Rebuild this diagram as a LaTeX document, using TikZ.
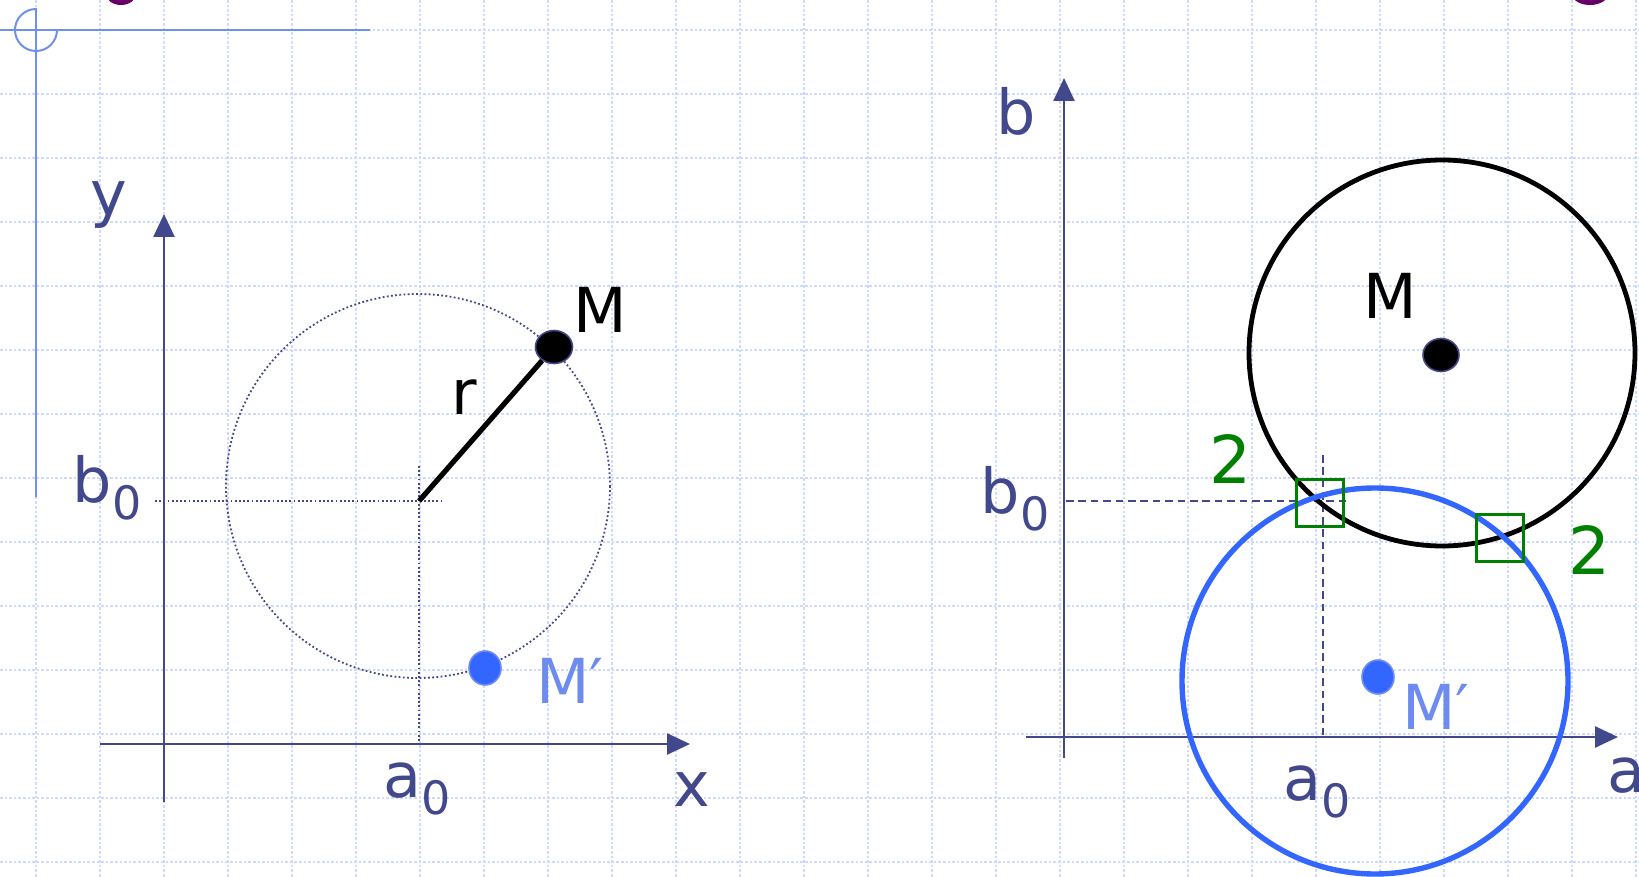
\documentclass[tikz,border=0pt]{standalone}
\usepackage{fontspec}
\setmainfont{DejaVu Sans}
\usetikzlibrary{arrows.meta,shapes.geometric}
\definecolor{gridc}{RGB}{205,217,255}
\definecolor{axisc}{RGB}{66,72,140}
\definecolor{decoc}{RGB}{112,144,240}
\definecolor{mblue}{RGB}{51,102,255}
\definecolor{mlight}{RGB}{110,140,240}
\definecolor{grn}{RGB}{0,128,0}
\definecolor{purp}{RGB}{102,0,102}
\newcommand{\subz}{\raisebox{-0.28em}{\fontsize{23}{28}\selectfont 0}}
\begin{document}
\begin{tikzpicture}[x=0.5pt,y=-0.5pt,
  gridline/.style={gridc, line width=1.2pt, dash pattern=on 1.3pt off 1pt},
  deco/.style={decoc, line width=1pt},
  axisline/.style={axisc, line width=1.3pt, -{Triangle[length=11.5pt,width=10.5pt]}},
  lbl/.style={font=\fontsize{31}{37}\selectfont, inner sep=0pt, text=axisc},
  dotl/.style={axisc, line width=0.9pt, dash pattern=on 0.9pt off 1.2pt},
  dashl/.style={axisc, line width=1.1pt, dash pattern=on 3.8pt off 2.4pt},
  mdot/.style={ellipse, fill=black, draw=axisc, line width=0.8pt, inner sep=0pt, minimum width=18.5pt, minimum height=16.5pt},
  mpdot/.style={ellipse, fill=mblue, draw=mlight, line width=0.8pt, inner sep=0pt, minimum width=16pt, minimum height=17pt},
  sq/.style={draw=grn, line width=1.2pt, minimum size=23.5pt, inner sep=0pt},
  bigc/.style={line width=2.4pt},
]
\useasboundingbox (0,0) rectangle (1639,877);
% grid
\foreach \k in {0,...,25}{\draw[gridline] (36+64*\k,0) -- (36+64*\k,877);}
\foreach \k in {0,...,13}{\draw[gridline] (0,30+64*\k) -- (1639,30+64*\k);}
% corner decoration
\draw[deco] (0,30) -- (370,30);
\draw[deco] (36,8) -- (36,497);
\draw[deco] (36,9) arc[start angle=270,end angle=0,radius=21];
% cut-off title fragments
\fill[purp] (121,-6) ellipse[x radius=15, y radius=11];
\fill[purp] (1590,-6) ellipse[x radius=18, y radius=11];

% ===== left panel =====
\coordinate (xs) at (100,744);
\coordinate (xe) at (690,744);
\coordinate (ys) at (164,802);
\coordinate (ye) at (164,214);
\draw[axisline] (xs) -- (xe);
\draw[axisline] (ys) -- (ye);
\coordinate (C) at (419,501);
\coordinate (hb) at (155,501);
\coordinate (he) at (441,501);
\coordinate (vt) at (419,466);
\coordinate (vb) at (419,744);
\draw[dotl] (hb) -- (he);
\draw[dotl] (vt) -- (vb);
\draw[dotl] (418,486) circle[radius=192];
\node[mdot] (M) at (554,347) {};
\draw[line width=2.6pt] (C) -- (M);
\node[mpdot] (Mp) at (485,668) {};
\node[lbl] (ly) at (109,205) {y};
\node[lbl] (lx) at (692,790) {x};
\node[lbl] (lb0) at (107,488) {b\subz};
\node[lbl] (la0) at (417,789) {a\subz};
\node[lbl, text=black] (lr) at (464,397) {r};
\node[lbl, text=black] (lM) at (600,310) {M};
\node[lbl, text=mlight] (lMp) at (570,681) {M′};

% ===== right panel =====
\coordinate (as) at (1026,737);
\coordinate (ae) at (1618,737);
\coordinate (bs) at (1064,758);
\coordinate (be) at (1064,78);
\draw[axisline] (as) -- (ae);
\draw[axisline] (bs) -- (be);
\coordinate (hb2) at (1066,501);
\coordinate (he2) at (1347,501);
\coordinate (vt2) at (1323,455);
\coordinate (vb2) at (1323,737);
\draw[dashl] (hb2) -- (he2);
\draw[dashl] (vt2) -- (vb2);
\draw[bigc, black] (1442,353) circle[radius=193];
\draw[line width=2.7pt, mblue] (1375,681) circle[radius=193];
\node[sq] (s1) at (1320,503) {};
\node[sq] (s2) at (1500,538) {};
\node[mdot, minimum width=18pt, minimum height=16.5pt] (M2) at (1441,355) {};
\node[mpdot] (Mp2) at (1378,677) {};
\node[lbl] (lb) at (1016,111) {b};
\node[lbl] (lb02) at (1015,499) {b\subz};
\node[lbl] (la02) at (1317,792) {a\subz};
\node[lbl] (la) at (1626,776) {a};
\node[lbl, text=black] (lM2) at (1390,296) {M};
\node[lbl, text=mlight] (lMp2) at (1436,707) {M′};
\node[lbl, text=grn, font=\fontsize{33}{40}\selectfont] (t1) at (1230,459) {2};
\node[lbl, text=grn, font=\fontsize{33}{40}\selectfont] (t2) at (1589,550) {2};
\end{tikzpicture}
\end{document}
